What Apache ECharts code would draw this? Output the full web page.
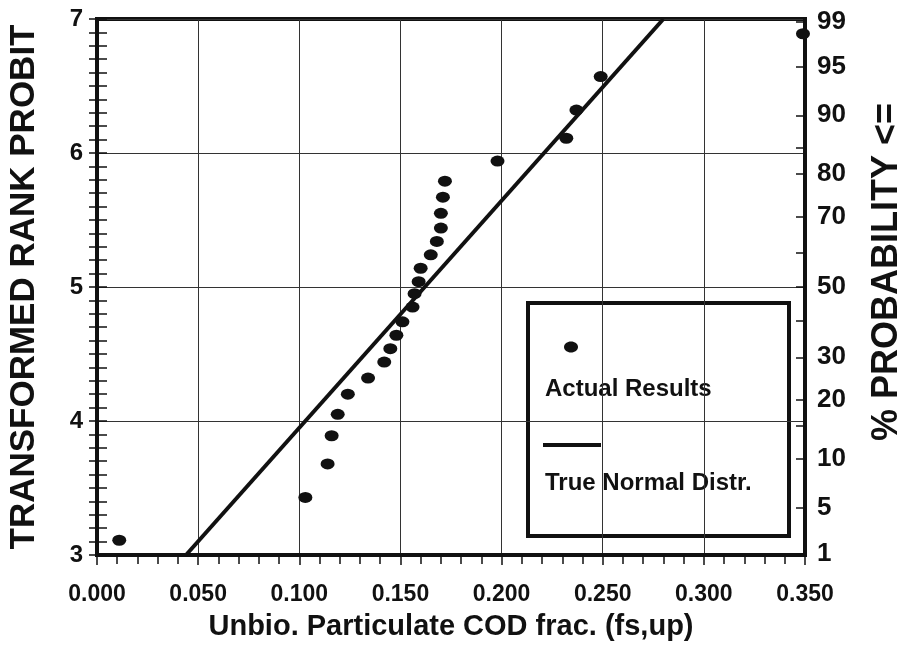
<!DOCTYPE html>
<html>
<head>
<meta charset="utf-8">
<title>Unbio. Particulate COD fraction – probit plot</title>
<script src="https://cdn.jsdelivr.net/npm/echarts@6/dist/echarts.min.js"></script>
<style>
  html, body { margin: 0; padding: 0; background: #fff; }
  #chart { width: 908px; height: 648px; }
</style>
</head>
<body>
<div id="chart"></div>
<script>
// Observed fractions (fs,up) and their transformed rank probits
const fsUp = [0.011, 0.103, 0.114, 0.116, 0.119, 0.124, 0.134, 0.142, 0.145, 0.148,
              0.151, 0.156, 0.157, 0.159, 0.160, 0.165, 0.168, 0.170, 0.170, 0.171,
              0.172, 0.198, 0.232, 0.237, 0.249, 0.349];
const rankProbit = [3.11, 3.43, 3.68, 3.89, 4.05, 4.20, 4.32, 4.44, 4.54, 4.64,
                    4.74, 4.85, 4.95, 5.04, 5.14, 5.24, 5.34, 5.44, 5.55, 5.67,
                    5.79, 5.94, 6.11, 6.32, 6.57, 6.89];

// Fitted normal distribution, drawn as a straight line in probit space
const fitX = [0.044, 0.280];
const fitY = [3, 7];

// Probability scale on the right-hand axis
const probTicks = [1, 5, 10, 15, 20, 30, 40, 50, 60, 70, 80, 85, 90, 95, 99];
const probLabels = [1, 5, 10, 20, 30, 50, 70, 80, 90, 95, 99];

const xTickLabelDecimals = 3;

// Inverse standard normal CDF (Acklam's rational approximation)
function normInv(p) {
  const a = [-3.969683028665376e+01, 2.209460984245205e+02, -2.759285104469687e+02,
             1.383577518672690e+02, -3.066479806614716e+01, 2.506628277459239e+00];
  const b = [-5.447609879822406e+01, 1.615858368580409e+02, -1.556989798598866e+02,
             6.680131188771972e+01, -1.328068155288572e+01];
  const c = [-7.784894002430293e-03, -3.223964580411365e-01, -2.400758277161838e+00,
             -2.549732539343734e+00, 4.374664141464968e+00, 2.938163982698783e+00];
  const d = [7.784695709041462e-03, 3.224671290700398e-01, 2.445134137142996e+00,
             3.754408661907416e+00];
  const pl = 0.02425, ph = 1 - pl;
  let q, r;
  if (p < pl) {
    q = Math.sqrt(-2 * Math.log(p));
    return (((((c[0]*q+c[1])*q+c[2])*q+c[3])*q+c[4])*q+c[5]) /
           ((((d[0]*q+d[1])*q+d[2])*q+d[3])*q+1);
  }
  if (p <= ph) {
    q = p - 0.5; r = q * q;
    return (((((a[0]*r+a[1])*r+a[2])*r+a[3])*r+a[4])*r+a[5])*q /
           (((((b[0]*r+b[1])*r+b[2])*r+b[3])*r+b[4])*r+1);
  }
  q = Math.sqrt(-2 * Math.log(1 - p));
  return -(((((c[0]*q+c[1])*q+c[2])*q+c[3])*q+c[4])*q+c[5]) /
          ((((d[0]*q+d[1])*q+d[2])*q+d[3])*q+1);
}

// Probit of a percentage, held inside the 3..7 axis range
const PROBIT_MIN = 3, PROBIT_MAX = 7;
function probitOf(pct) {
  const v = 5 + normInv(pct / 100);
  return Math.min(PROBIT_MAX - 0.02, Math.max(PROBIT_MIN + 0.01, v));
}
const probTickValues = probTicks.map(probitOf);
const probLabelValues = probLabels.map(probitOf);

const FONT = '"Liberation Sans", Arial, sans-serif';
const INK = '#111';

const chart = echarts.init(document.getElementById('chart'), null, { renderer: 'canvas' });

chart.setOption({
  backgroundColor: '#fff',
  animation: false,
  textStyle: { fontFamily: FONT, color: INK },
  grid: {
    left: 97, right: 103, top: 19, bottom: 93,
    outerBoundsMode: 'none',
    show: true, borderColor: INK, borderWidth: 4, backgroundColor: 'transparent'
  },
  xAxis: {
    type: 'value', min: 0, max: 0.35, interval: 0.05,
    name: 'Unbio. Particulate COD frac. (fs,up)',
    nameLocation: 'middle', nameGap: 57,
    nameTextStyle: { fontSize: 29, fontWeight: 'bold', color: INK, fontFamily: FONT },
    axisLine: { onZero: false, lineStyle: { color: INK, width: 4 } },
    axisTick: { inside: false, length: 10, lineStyle: { color: INK, width: 1.5 } },
    minorTick: { show: true, splitNumber: 5, length: 9, lineStyle: { color: INK, width: 1.5 } },
    splitLine: { show: true, lineStyle: { color: '#333', width: 1 } },
    axisLabel: {
      fontSize: 23, fontWeight: 'bold', color: INK, fontFamily: FONT, margin: 28,
      formatter: v => v.toFixed(xTickLabelDecimals)
    }
  },
  yAxis: [
    {
      type: 'value', position: 'left', min: PROBIT_MIN, max: PROBIT_MAX, interval: 1,
      name: 'TRANSFORMED RANK PROBIT',
      nameLocation: 'middle', nameGap: 55, nameRotate: 90,
      nameTextStyle: { fontSize: 35, fontWeight: 'bold', color: INK, fontFamily: FONT },
      axisLine: { onZero: false, lineStyle: { color: INK, width: 4 } },
      axisTick: { inside: true, length: 10, lineStyle: { color: INK, width: 1.5 } },
      minorTick: { show: true, splitNumber: 10, length: 10, lineStyle: { color: INK, width: 1.5 } },
      splitLine: { show: true, lineStyle: { color: '#333', width: 1 } },
      axisLabel: { fontSize: 24, fontWeight: 'bold', color: INK, fontFamily: FONT, margin: 14 }
    },
    {
      // outer half of the left-hand tick marks
      type: 'value', position: 'left', min: PROBIT_MIN, max: PROBIT_MAX, interval: 1,
      axisLine: { show: false },
      axisTick: { inside: false, length: 8, lineStyle: { color: INK, width: 1.5 } },
      minorTick: { show: true, splitNumber: 10, length: 8, lineStyle: { color: INK, width: 1.5 } },
      splitLine: { show: false },
      axisLabel: { show: false }
    },
    {
      type: 'value', position: 'right', min: PROBIT_MIN, max: PROBIT_MAX,
      name: '% PROBABILITY <=',
      nameLocation: 'middle', nameGap: 64, nameRotate: 90,
      nameTextStyle: {
        fontSize: 36, fontWeight: 'bold', color: INK, fontFamily: FONT,
        padding: [0, 0, 0, 30]
      },
      axisLine: { onZero: false, lineStyle: { color: INK, width: 4 } },
      axisTick: {
        inside: true, length: 9, customValues: probTickValues,
        lineStyle: { color: INK, width: 1.5 }
      },
      splitLine: { show: false },
      axisLabel: {
        fontSize: 26, fontWeight: 'bold', color: INK, fontFamily: FONT, margin: 12,
        customValues: probLabelValues,
        formatter: v => {
          const i = probLabelValues.findIndex(p => Math.abs(p - v) < 1e-6);
          return i >= 0 ? String(probLabels[i]) : '';
        }
      }
    }
  ],
  series: [
    {
      name: 'True Normal Distr.',
      type: 'line',
      xAxisIndex: 0, yAxisIndex: 0,
      data: fitX.map((x, i) => [x, fitY[i]]),
      showSymbol: false,
      lineStyle: { color: INK, width: 4 },
      z: 3
    },
    {
      name: 'Actual Results',
      type: 'scatter',
      xAxisIndex: 0, yAxisIndex: 0,
      data: fsUp.map((x, i) => [x, rankProbit[i]]),
      symbol: 'circle',
      symbolSize: [14, 11],
      itemStyle: { color: INK, opacity: 1 },
      clip: false,
      z: 4
    }
  ],
  graphic: [
    {
      type: 'group', left: 526, top: 301, z: 100,
      children: [
        { type: 'rect', shape: { x: 0, y: 0, width: 261, height: 233 },
          style: { fill: '#fff', stroke: INK, lineWidth: 4 } },
        { type: 'ellipse', shape: { cx: 43, cy: 44, rx: 7, ry: 5.5 }, style: { fill: INK } },
        { type: 'text', x: 17, y: 86,
          style: { text: 'Actual Results', fill: INK, font: 'bold 24px ' + FONT, textVerticalAlign: 'middle' } },
        { type: 'line', shape: { x1: 15, y1: 142, x2: 73, y2: 142 },
          style: { stroke: INK, lineWidth: 4 } },
        { type: 'text', x: 17, y: 180,
          style: { text: 'True Normal Distr.', fill: INK, font: 'bold 24px ' + FONT, textVerticalAlign: 'middle' } }
      ]
    }
  ]
});
</script>
</body>
</html>
